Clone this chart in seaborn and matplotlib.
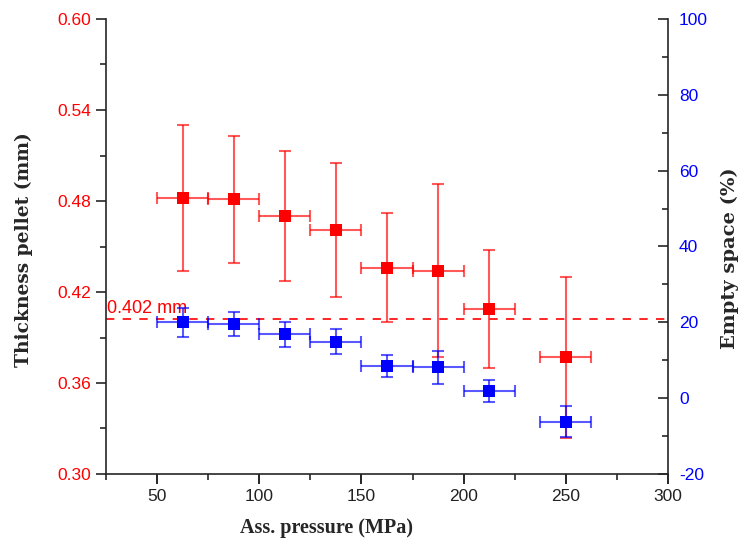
import numpy as np
import pandas as pd
import matplotlib
matplotlib.use("Agg")
import matplotlib.pyplot as plt
import seaborn as sns
from matplotlib.ticker import MultipleLocator

pressure = [62.5, 87.5, 112.5, 137.5, 162.5, 187.5, 212.5, 250.0]
pressure_err = [12.5, 12.5, 12.5, 12.5, 12.5, 12.5, 12.5, 12.5]
thickness = [0.482, 0.481, 0.470, 0.461, 0.436, 0.434, 0.409, 0.377]
thickness_err = [0.048, 0.042, 0.043, 0.044, 0.036, 0.057, 0.039, 0.053]
empty_space = [20.0, 19.5, 16.8, 14.9, 8.5, 8.1, 1.8, -6.2]
empty_err = [3.9, 3.2, 3.4, 3.3, 2.9, 4.3, 2.9, 4.1]
ref_thickness = 0.402
ref_label = "0.402 mm"

df = pd.DataFrame({"pressure": pressure, "thickness": thickness,
                   "empty": empty_space})

sns.set_style("ticks")
plt.rcParams["axes.unicode_minus"] = False
fig = plt.figure(figsize=(7.43, 5.49), dpi=100)
ax = fig.add_axes([106/743, 1-474/549, (668-106)/743, (474-19)/549])
ax2 = ax.twinx()

red = "#ff0000"
blue = "#0000ff"

ax.errorbar(pressure, thickness, xerr=pressure_err, yerr=thickness_err,
            fmt="none", ecolor=red, alpha=0.65, elinewidth=1.5,
            capsize=4, capthick=1.5, zorder=2)
sns.scatterplot(data=df, x="pressure", y="thickness", marker="s", s=80,
                color=red, edgecolor=red, linewidth=0, ax=ax, zorder=3)
ax.axhline(ref_thickness, color=red, ls=(0, (5, 5)), lw=1.2, zorder=1)
ax.text(25.5, ref_thickness + 0.0015, ref_label, color=red, fontsize=13,
        family="Liberation Sans", va="bottom", ha="left")

ax2.errorbar(pressure, empty_space, xerr=pressure_err, yerr=empty_err,
             fmt="none", ecolor=blue, alpha=0.65, elinewidth=1.5,
             capsize=4, capthick=1.5, zorder=2)
sns.scatterplot(data=df, x="pressure", y="empty", marker="s", s=80,
                color=blue, edgecolor=blue, linewidth=0, ax=ax2, zorder=3)

ax.set_xlim(25, 300)
ax.set_ylim(0.30, 0.60)
ax2.set_ylim(-20, 100)

ax.xaxis.set_major_locator(MultipleLocator(50))
ax.xaxis.set_minor_locator(MultipleLocator(25))
ax.yaxis.set_major_locator(MultipleLocator(0.06))
ax.yaxis.set_minor_locator(MultipleLocator(0.03))
ax2.yaxis.set_major_locator(MultipleLocator(20))
ax2.yaxis.set_minor_locator(MultipleLocator(10))
ax.yaxis.set_major_formatter(matplotlib.ticker.FormatStrFormatter("%.2f"))

for a in (ax, ax2):
    a.spines["top"].set_visible(False)
    for s in a.spines.values():
        s.set_linewidth(1.2)
ax.spines["right"].set_visible(False)
ax2.spines["left"].set_visible(False)
ax2.spines["bottom"].set_visible(False)

ax.tick_params(axis="x", which="major", direction="out", length=7, width=1.2,
               labelsize=12.5, colors="black", labelcolor="#222222")
ax.tick_params(axis="x", which="minor", direction="out", length=4, width=1.2)
ax.tick_params(axis="y", which="major", direction="out", length=7, width=1.2,
               labelsize=12.5, labelcolor=red)
ax.tick_params(axis="y", which="minor", direction="out", length=4, width=1.2)
ax2.tick_params(axis="y", which="major", direction="in", length=7, width=1.2,
                labelsize=12.5, labelcolor=blue, pad=8)
ax2.tick_params(axis="y", which="minor", direction="in", length=4, width=1.2)
for lab in ax.get_xticklabels() + ax.get_yticklabels() + ax2.get_yticklabels():
    lab.set_family("Liberation Sans")

ax.set_xlabel("Ass. pressure (MPa)", family="Liberation Serif",
              weight="bold", size=14.5)
ax.set_ylabel("Thickness pellet (mm)", family="DejaVu Serif",
              weight="bold", size=13.4)
ax2.set_ylabel("Empty space (%)", family="DejaVu Serif",
               weight="bold", size=14)
ax.xaxis.set_label_coords((327-106)/562, -(528-474)/455)
ax.yaxis.set_label_coords(-(106-24)/562, (474-250)/455)
ax2.yaxis.set_label_coords((730-106)/562, (474-258)/455)
ax.xaxis.label.set_va("center")
ax.yaxis.label.set_va("center")
ax2.yaxis.label.set_va("center")

fig.savefig("out.png", dpi=100)
